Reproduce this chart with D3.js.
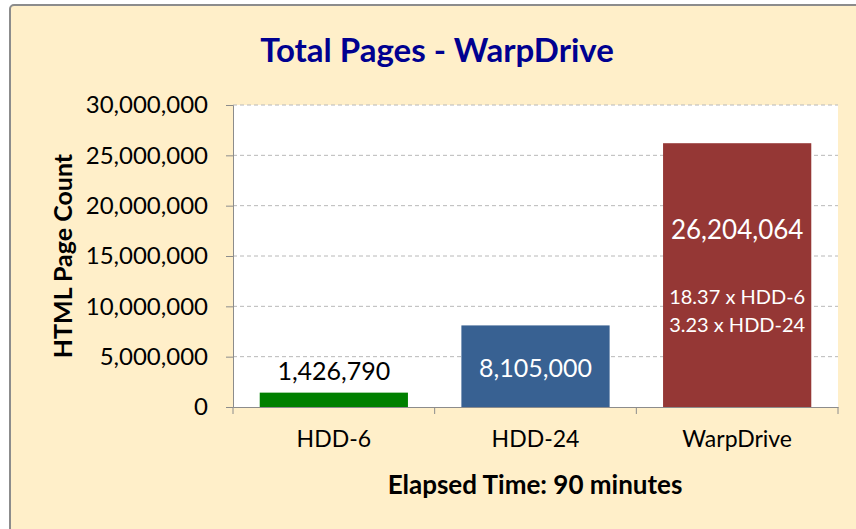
<!DOCTYPE html>
<html lang="en">
<head>
    <meta charset="UTF-8">
    <title>Total Pages - WarpDrive</title>
    <script src="https://d3js.org/d3.v7.min.js"></script>
    <style>
        html, body {
            margin: 0;
            background: #fff;
        }
        svg text {
            font-family: Lato, "Open Sans", sans-serif;
        }
    </style>
</head>
<body>
    <div id="vis"></div>
    <script>
        // data
        var categories = ["HDD-6", "HDD-24", "WarpDrive"];
        var pageCounts = [1426790, 8105000, 26204064];
        var barColors = ["#008000", "#386192", "#953735"];
        var yTicks = [0, 5000000, 10000000, 15000000, 20000000, 25000000, 30000000];
        var ratioLines = ["18.37 x HDD-6", "3.23 x HDD-24"];

        var W = 856, H = 529;
        var margin = {top: 105, right: 18, bottom: 122, left: 233};
        var width = W - margin.left - margin.right;
        var height = H - margin.top - margin.bottom;

        var svg = d3.select("#vis").append("svg")
            .attr("width", W)
            .attr("height", H);

        // cream frame
        svg.append("rect")
            .attr("x", 10).attr("y", 5)
            .attr("width", W + 10).attr("height", H + 10)
            .attr("rx", 4)
            .attr("fill", "#FFEFC9")
            .attr("stroke", "#8c8c8c")
            .attr("stroke-width", 2);

        svg.append("text")
            .attr("x", 437).attr("y", 62)
            .attr("text-anchor", "middle")
            .attr("font-size", 33)
            .attr("font-weight", "bold")
            .attr("fill", "#000090")
            .text("Total Pages - WarpDrive");

        var g = svg.append("g")
            .attr("transform", "translate(" + margin.left + "," + margin.top + ")");

        var x = d3.scaleBand().domain(categories).range([0, width]).paddingInner(0.265).paddingOuter(0.1325);
        var y = d3.scaleLinear().domain([0, 30000000]).range([height, 0]);

        g.append("rect")
            .attr("width", width).attr("height", height)
            .attr("fill", "#fff");

        // dashed grid
        g.selectAll(".grid").data(yTicks.slice(1)).enter().append("line")
            .attr("x1", 0).attr("x2", width)
            .attr("y1", function(d) { return y(d); })
            .attr("y2", function(d) { return y(d); })
            .attr("stroke", "#b8b8b8")
            .attr("stroke-dasharray", "4,3");

        g.selectAll(".bar").data(pageCounts).enter().append("rect")
            .attr("x", function(d, i) { return x(categories[i]); })
            .attr("y", function(d) { return y(d); })
            .attr("width", x.bandwidth())
            .attr("height", function(d) { return height - y(d); })
            .attr("fill", function(d, i) { return barColors[i]; });

        var fmt = d3.format(",");

        var yAxis = g.append("g")
            .call(d3.axisLeft(y).tickValues(yTicks).tickFormat(fmt).tickSize(7).tickPadding(18));
        yAxis.selectAll("text").attr("font-size", 24).attr("fill", "#000");

        var xAxis = g.append("g")
            .attr("transform", "translate(0," + height + ")")
            .call(d3.axisBottom(x).tickSize(0).tickPadding(24));
        xAxis.selectAll("text").attr("font-size", 23).attr("fill", "#000");
        // category boundary ticks
        xAxis.selectAll(".sep").data(d3.range(categories.length + 1)).enter().append("line")
            .attr("x1", function(i) { return i * width / categories.length; })
            .attr("x2", function(i) { return i * width / categories.length; })
            .attr("y1", 0).attr("y2", 7)
            .attr("stroke", "#8c8c8c");

        g.selectAll(".domain").attr("stroke", "#8c8c8c");
        g.selectAll(".tick line").attr("stroke", "#8c8c8c");

        // value labels
        var cx = function(i) { return x(categories[i]) + x.bandwidth() / 2; };
        g.append("text")
            .attr("x", cx(0)).attr("y", y(pageCounts[0]) - 13)
            .attr("text-anchor", "middle").attr("font-size", 25).attr("fill", "#000")
            .text(fmt(pageCounts[0]));
        g.append("text")
            .attr("x", cx(1)).attr("y", y(pageCounts[1]) + 52)
            .attr("text-anchor", "middle").attr("font-size", 25).attr("fill", "#fff")
            .text(fmt(pageCounts[1]));
        g.append("text")
            .attr("x", cx(2)).attr("y", 134)
            .attr("text-anchor", "middle").attr("font-size", 26).attr("fill", "#fff")
            .text(fmt(pageCounts[2]));
        g.selectAll(".ratio").data(ratioLines).enter().append("text")
            .attr("x", cx(2))
            .attr("y", function(d, i) { return 199 + i * 28; })
            .attr("text-anchor", "middle").attr("font-size", 20).attr("fill", "#fff")
            .text(function(d) { return d; });

        // axis titles
        svg.append("text")
            .attr("x", 535).attr("y", 494)
            .attr("text-anchor", "middle")
            .attr("font-size", 26).attr("font-weight", "bold")
            .text("Elapsed Time: 90 minutes");
        svg.append("text")
            .attr("transform", "translate(72,256) rotate(-90)")
            .attr("text-anchor", "middle")
            .attr("font-size", 25).attr("font-weight", "bold")
            .text("HTML Page Count");
    </script>
</body>
</html>
